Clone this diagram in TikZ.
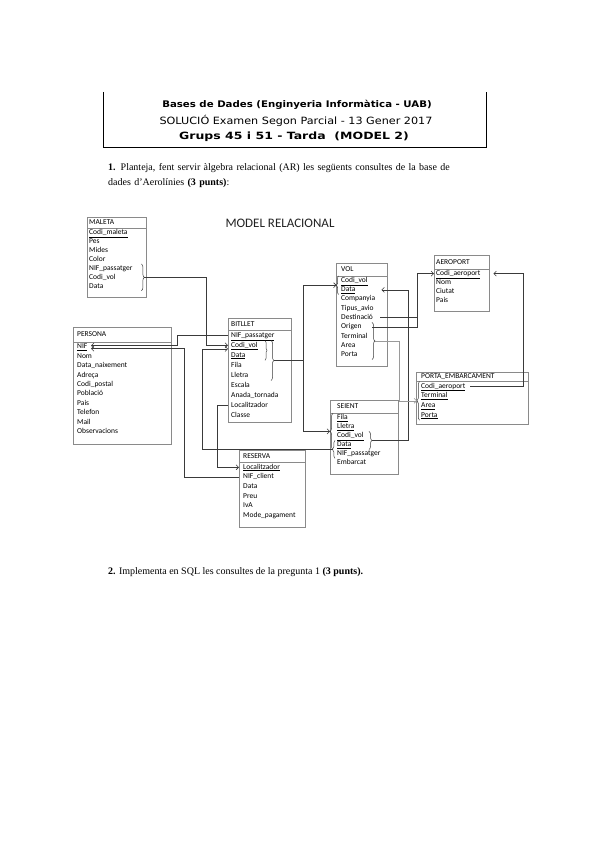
\documentclass[tikz,border=0pt]{standalone}
\usepackage{fontspec}
\setmainfont{Liberation Serif}
\newfontfamily\taulafont{Carlito}
\newfontfamily\capfont[FakeStretch=1.12]{DejaVu Sans}
\newfontfamily\capfontwide[FakeStretch=1.25]{DejaVu Sans}
\usetikzlibrary{arrows.meta, positioning, calc, decorations.pathreplacing}
\definecolor{boxGray}{HTML}{8A8A8A}
\definecolor{lineDark}{HTML}{3A3A3A}
\definecolor{lineGray}{HTML}{9A9A9A}
\definecolor{textDark}{HTML}{222222}
\tikzset{
  tabline/.style={draw=boxGray, line width=0.6pt},
  tabtitle/.style={font=\taulafont\fontsize{7.5}{8}\selectfont, inner sep=0pt,
                   align=left, text height=5.5pt, text depth=1pt},
  tabrow/.style={font=\taulafont\fontsize{7.5}{8}\selectfont, inner sep=0pt,
                 align=left, text height=5pt, text depth=1.5pt},
  fkarrow/.style={-{Straight Barb[length=2.5pt, width=5pt]}, draw=lineDark, line width=0.6pt},
  fkline/.style={draw=lineDark, line width=0.6pt},
  fkgray/.style={-{Straight Barb[length=2.5pt, width=5pt]}, draw=lineGray, line width=0.6pt},
  fkbrace/.style={decorate, decoration={brace, amplitude=3pt}, draw=lineDark, line width=0.5pt},
  capline/.style={font=\capfont\fontsize{10}{11}\selectfont, inner sep=0pt},
}
% #1 sagnat, #2 nom, #3 posicio, #4 amplada, #5 alcada titol, #6 alcada fila, #7 titol, #8 camps
\newcommand{\taula}[8][2]{%
  \node[tabtitle, anchor=north west, text width=#4pt, minimum height=#5pt]
        (#2-0) at #3 {\hspace*{#1pt}#7};
  \draw[tabline] (#2-0.south west) -- (#2-0.south east);
  \foreach \camp [count=\i, remember=\i as \j (initially 0)] in {#8}
    \node[tabrow, text width=#4pt, minimum height=#6pt, below=0pt of #2-\j]
          (#2-\i) {\hspace*{#1pt}\camp};
}

\begin{document}
\begin{tikzpicture}[x=1pt, y=-1pt]
  \useasboundingbox[fill=white] (0,0) rectangle (600,848);

  % capcalera
  \draw[line width=0.6pt] (103,92) -- (103,147) -- (486,147) -- (486,92);
  \node[capline, font={\capfont\bfseries\fontsize{9.1}{11}\selectfont}] (cap1) at (297,105)
        {Bases de Dades (Enginyeria Informàtica - UAB)};
  \node[capline] (cap2) at (296,121) {SOLUCIÓ Examen Segon Parcial - 13 Gener 2017};
  \node[capline, font={\capfontwide\bfseries\fontsize{10}{11}\selectfont}] (cap3) at (294,137)
        {Grups 45 i 51 - Tarda\ \ (MODEL 2)};

  \node[anchor=north west, text width=379pt, inner sep=0pt, align=left,
        font=\fontsize{10}{15}\selectfont] (preg1) at (108,163)
        {\makebox[379pt][s]{\textbf{1.} Planteja, fent servir àlgebra relacional (AR) les següents consultes de la base de}\\
         dades d'Aerolínies \textbf{(3 punts)}:};

  \node[font=\taulafont\fontsize{13}{15}\selectfont, text=textDark] (titol) at (280,223) {MODEL RELACIONAL};

  % taules
  \taula{maleta}{(87,217)}{59}{11}{8.5}{MALETA}
        {\underline{Codi\_maleta}, Pes, Mides, Color, NIF\_passatger, Codi\_vol, Data}
  \draw[tabline] (maleta-0.north west) rectangle ([yshift=-7pt]maleta-7.south east);

  \taula[4]{persona}{(73,327)}{98}{15}{9}{PERSONA}
        {\underline{NIF}, Nom, Data\_naixement, Adreça, Codi\_postal, Població, Pais,
         Telefon, Mail, Observacions}
  \draw[tabline] (persona-0.north west) rectangle ([yshift=-8pt]persona-10.south east);

  \taula[3]{bitllet}{(228,318)}{63}{12}{9.6}{BITLLET}
        {\underline{NIF\_passatger}, \underline{Codi\_vol}, \underline{Data}, Fila, Lletra,
         Escala, Anada\_tornada, Localitzador, Classe}
  \draw[tabline] (bitllet-0.north west) rectangle ([yshift=-2pt]bitllet-9.south east);

  \taula[5]{vol}{(336,263)}{51}{12.5}{8.9}{VOL}
        {\underline{Codi\_vol}, \underline{Data}, Companyia, Tipus\_avio, Destinació,
         Origen, Terminal, Area, Porta}
  \draw[tabline] (vol-0.north west) rectangle ([yshift=-7pt]vol-9.south east);

  \taula{aeroport}{(434,255)}{55}{13.6}{8.8}{AEROPORT}
        {\underline{Codi\_aeroport}, Nom, Ciutat, Pais}
  \draw[tabline] (aeroport-0.north west) rectangle ([yshift=-5pt]aeroport-4.south east);

  \taula[5]{porta}{(416,372)}{112}{9}{9.3}{PORTA\_EMBARCAMENT}
        {\underline{Codi\_aeroport}, \underline{Terminal}, \underline{Area}, \underline{Porta}}
  \draw[tabline] (porta-0.north west) rectangle ([yshift=-4pt]porta-4.south east);

  \taula[7]{seient}{(330,400)}{68}{13}{8.6}{SEIENT}
        {\underline{Fila}, \underline{Lletra}, \underline{Codi\_vol}, \underline{Data},
         NIF\_passatger, Embarcat}
  \draw[tabline] (seient-0.north west) rectangle ([yshift=-7pt]seient-6.south east);

  \taula[4]{reserva}{(239,450)}{66}{12}{9.3}{RESERVA}
        {\underline{Localitzador}, NIF\_client, Data, Preu, IvA, Mode\_pagament}
  \draw[tabline] (reserva-0.north west) rectangle ([yshift=-7pt]reserva-6.south east);

  % claus
  \draw[fkbrace] ([xshift=-5pt]maleta-5.north east) -- ([xshift=-5pt]maleta-7.south east);
  \coordinate (maleta-fk) at ($([xshift=-2pt]maleta-5.north east)!0.5!([xshift=-2pt]maleta-7.south east)$);

  \draw[fkbrace, decoration={amplitude=2pt}] ([xshift=37pt]bitllet-2.north west) -- ([xshift=37pt]bitllet-3.south west);
  \draw[fkbrace] ([xshift=43pt]bitllet-2.north west) -- ([xshift=43pt]bitllet-5.south west);
  \coordinate (bitllet-fk) at ($([xshift=46pt]bitllet-2.north west)!0.5!([xshift=46pt]bitllet-5.south west)$);

  \draw[fkbrace, decoration={amplitude=2pt}] ([xshift=2.5pt]vol-2.south west) -- ([xshift=2.5pt]vol-1.north west);
  \coordinate (vol-fkL) at ($([xshift=0.5pt]vol-1.north west)!0.5!([xshift=0.5pt]vol-2.south west)$);
  \draw[fkbrace] ([xshift=36pt]vol-6.north west) -- ([xshift=36pt]vol-9.south west);
  \coordinate (vol-fkR) at ($([xshift=39pt]vol-6.north west)!0.5!([xshift=39pt]vol-9.south west)$);

  \draw[fkbrace, decoration={amplitude=2.5pt}] ([xshift=3.5pt]porta-4.south west) -- ([xshift=3.5pt]porta-1.north west);
  \coordinate (porta-fk) at ($([xshift=1pt]porta-1.north west)!0.5!([xshift=1pt]porta-4.south west)$);

  \draw[fkbrace] ([xshift=3pt]seient-4.south west) -- ([xshift=3pt]seient-1.north west);
  \coordinate (seient-fkA) at ($(seient-1.north west)!0.5!(seient-4.south west)$);
  \draw[fkbrace, decoration={amplitude=2.5pt}] ([xshift=5pt]seient-5.south west) -- ([xshift=5pt]seient-4.north west);
  \coordinate (seient-fkB) at ($([xshift=2.5pt]seient-4.north west)!0.5!([xshift=2.5pt]seient-5.south west)$);
  \draw[fkbrace] ([xshift=39pt]seient-3.north west) -- ([xshift=39pt]seient-4.south west);
  \coordinate (seient-fkR) at ($([xshift=42pt]seient-3.north west)!0.5!([xshift=42pt]seient-4.south west)$);

  \coordinate (persona-nif1) at ([xshift=18pt, yshift=1.5pt]persona-1.west);
  \coordinate (persona-nif2) at ([xshift=18pt, yshift=-1.5pt]persona-1.west);

  % connexions
  \draw[fkarrow] (maleta-fk) -- ++(62,0) |- (bitllet-2.west);
  \draw[fkarrow] (bitllet-1.west) -- ++(-51,0) |- (persona-nif1);
  \draw[fkarrow] (reserva-2.west) -- ++(-55,0) |- (persona-nif2);
  \draw[fkarrow] (bitllet-8.west) -- ++(-11,0) |- (reserva-1.west);
  \draw[fkarrow] (seient-fkB) -- ++(-130,0) |- ([yshift=-3.5pt]bitllet-2.west);
  \draw[fkarrow] (bitllet-fk) -- ++(29,0) coordinate (bitllet-j) |- (vol-fkL);
  \draw[fkarrow] (bitllet-j) |- (seient-fkA);
  \draw[fkarrow] (seient-fkR) -- ++(36,0) |- ([xshift=-6pt]vol-2.east);
  \draw[fkarrow] ([xshift=36pt]vol-6.west) -- ++(45,0) coordinate (vol-a) |- (aeroport-1.west);
  \draw[fkline] ([xshift=-7pt]vol-5.east) -- (vol-5.east -| vol-a);
  \draw[fkgray] (vol-fkR) -- ++(24,0) |- (porta-fk);
  \draw[fkarrow] ([xshift=-58pt]porta-1.east) -- ++(53,0) |- ([xshift=4pt]aeroport-1.east);

  \node[anchor=west, inner sep=0pt, font=\fontsize{10}{15}\selectfont] (preg2) at (108,572)
        {\textbf{2.} Implementa en SQL les consultes de la pregunta 1 \textbf{(3 punts).}};
\end{tikzpicture}
\end{document}
